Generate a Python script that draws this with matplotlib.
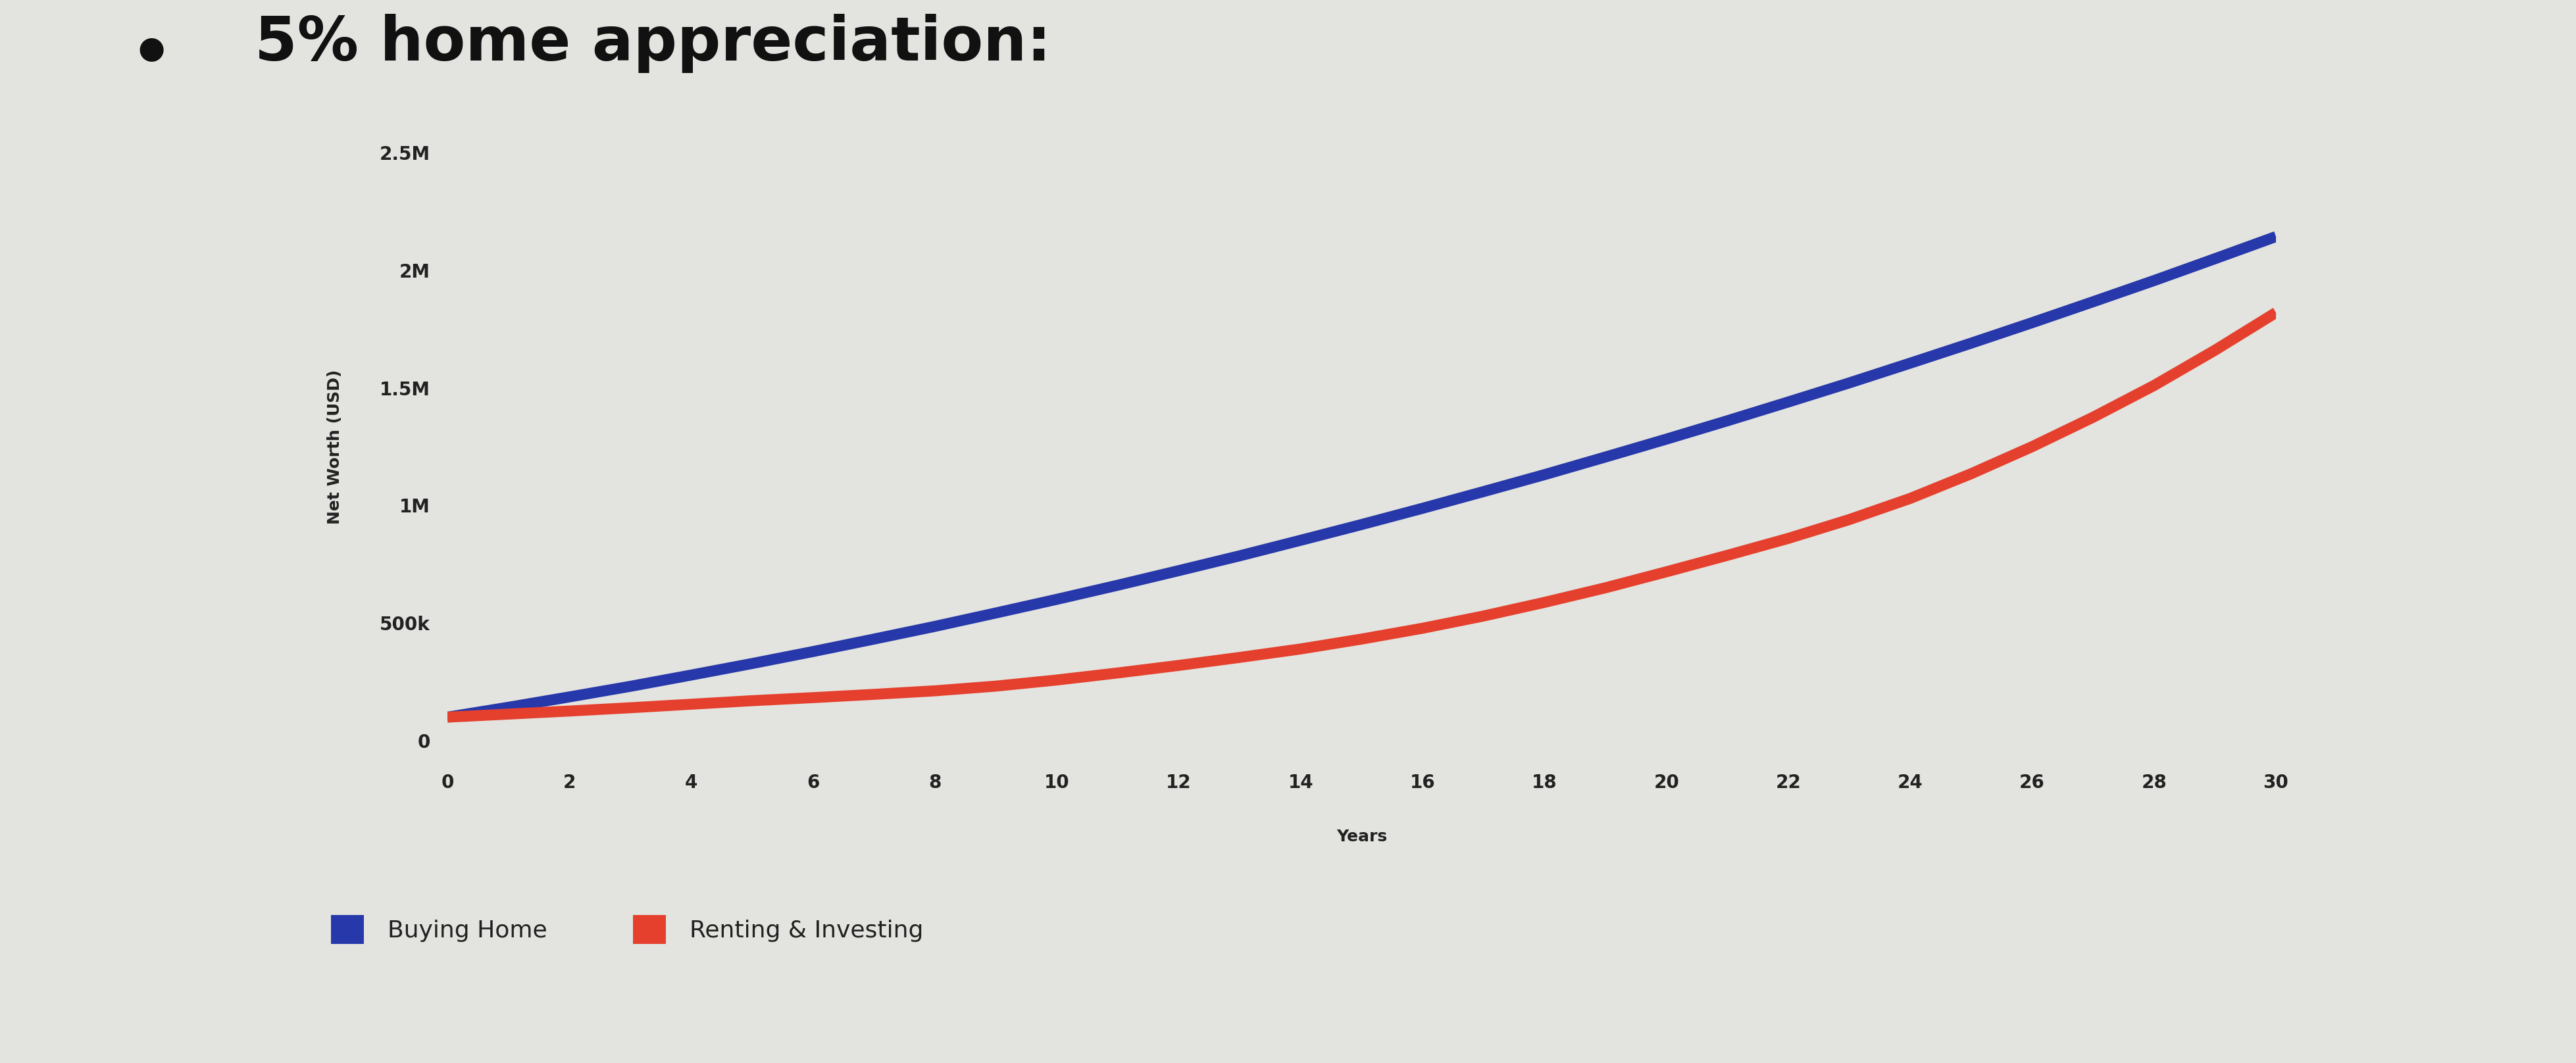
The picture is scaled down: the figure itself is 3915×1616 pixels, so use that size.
import matplotlib
matplotlib.use("Agg")
import matplotlib.pyplot as plt
from matplotlib.patches import Patch
from matplotlib.ticker import FixedLocator

W, H = 3916, 1616
DPI = 100

# net worth, in thousands of USD, one value per year
years = list(range(0, 31))
buying_home = [100, 142, 186, 231, 279, 328, 379, 432, 486, 543,
               601, 661, 723, 786, 852, 919, 988, 1059, 1131, 1206,
               1282, 1360, 1440, 1521, 1605, 1690, 1777, 1866, 1956, 2049,
               2143]
renting_investing = [100, 113, 126, 140, 155, 170, 183, 197, 212, 232,
                     258, 288, 320, 354, 390, 432, 478, 530, 588, 650,
                     718, 788, 860, 940, 1030, 1135, 1250, 1375, 1510, 1660,
                     1820]

x_ticks = list(range(0, 31, 2))
y_ticks = [0, 500, 1000, 1500, 2000, 2500]
y_tick_labels = ["0", "500k", "1M", "1.5M", "2M", "2.5M"]
series_names = ["Buying Home", "Renting & Investing"]
series_colors = ["#2638aa", "#e5402d"]
bg = "#e3e3df"

fig = plt.figure(figsize=(W / DPI, H / DPI), dpi=DPI)
fig.patch.set_facecolor(bg)

# axes placed in pixel terms of the reference
left, right = 680, 3459
top, bottom = 232, 1126
ax = fig.add_axes([left / W, 1 - bottom / H, (right - left) / W, (bottom - top) / H])
ax.set_facecolor(bg)

ax.plot(years, buying_home, color=series_colors[0], linewidth=12, solid_capstyle="butt")
ax.plot(years, renting_investing, color=series_colors[1], linewidth=12, solid_capstyle="butt")

ax.set_xlim(0, 30)
ax.set_ylim(0, 2500)
ax.xaxis.set_major_locator(FixedLocator(x_ticks))
ax.yaxis.set_major_locator(FixedLocator(y_ticks))
ax.set_yticklabels(y_tick_labels)
ax.tick_params(axis="both", length=0, labelsize=20, colors="#222222")
ax.tick_params(axis="x", pad=36)
ax.tick_params(axis="y", pad=19)
for lab in ax.get_xticklabels() + ax.get_yticklabels():
    lab.set_fontweight("bold")
for s in ax.spines.values():
    s.set_visible(False)

ax.set_ylabel("Net Worth (USD)", fontsize=18, fontweight="bold", color="#222222", labelpad=40)
ax.set_xlabel("Years", fontsize=18, fontweight="bold", color="#222222", labelpad=40)

# legend below the chart
handles = [Patch(facecolor=c, edgecolor="none") for c in series_colors]
fig.legend(handles, series_names, loc="center left",
           bbox_to_anchor=(470 / W, 1 - 1413 / H), ncol=2, frameon=False,
           fontsize=26, handlelength=1.4, handleheight=1.5,
           handletextpad=1.0, columnspacing=3.6, labelcolor="#222222")

# bullet heading at the top
fig.text(230 / W, 1 - 75 / H, "\u25CF", fontsize=34,
         va="center", ha="center", color="#111111")
fig.text(387 / W, 1 - 92 / H, "5% home appreciation:", fontsize=67,
         fontweight="bold", va="baseline", ha="left", color="#111111")

fig.savefig("out.png", dpi=DPI, facecolor=fig.get_facecolor())
